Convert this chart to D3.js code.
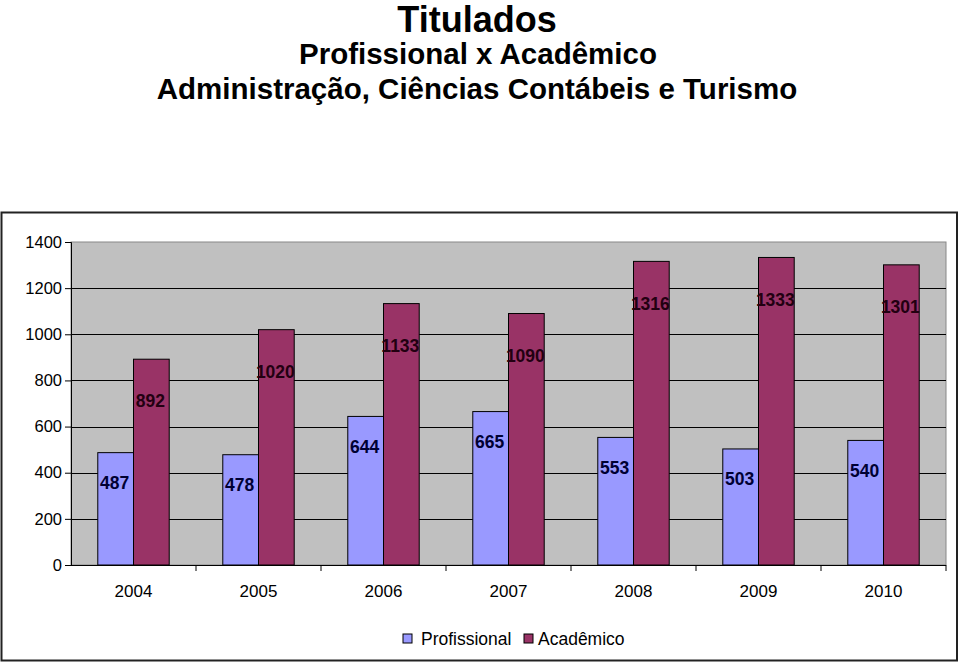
<!DOCTYPE html>
<html><head><meta charset="utf-8">
<script src="https://cdn.jsdelivr.net/npm/d3@7"></script>
<style>body{margin:0;background:#fff}svg{display:block}text{font-family:"Liberation Sans",Arial,sans-serif}</style>
</head><body>
<svg id="c" width="960" height="664"></svg>
<script>
const years = ["2004","2005","2006","2007","2008","2009","2010"];
const profissional = [487,478,644,665,553,503,540];
const academico = [892,1020,1133,1090,1316,1333,1301];
const seriesNames = ["Profissional","Acadêmico"];
const yTicks = [0,200,400,600,800,1000,1200,1400];

const svg = d3.select("#c");
const colors = ["#9999FF","#993366"];
const labelColors = ["#000033","#220011"];
const L=71, R=946, T=242, B=565;

// titles
svg.append("text").attr("x",477).attr("y",32).attr("text-anchor","middle").attr("font-weight","bold").attr("font-size",36).text("Titulados");
svg.append("text").attr("x",478).attr("y",64).attr("text-anchor","middle").attr("font-weight","bold").attr("font-size",29.5).text("Profissional x Acadêmico");
svg.append("text").attr("x",477).attr("y",99).attr("text-anchor","middle").attr("font-weight","bold").attr("font-size",29.5).text("Administração, Ciências Contábeis e Turismo");

// outer box
svg.append("rect").attr("x",1.5).attr("y",212.5).attr("width",955.5).attr("height",448).attr("fill","none").attr("stroke","#222").attr("stroke-width",2);

const x0 = d3.scaleBand().domain(years).range([L,R]).paddingInner(0).paddingOuter(0);
const bw = x0.bandwidth()/3.5;
const y = d3.scaleLinear().domain([0,1400]).range([B,T]);

svg.append("rect").attr("x",L).attr("y",T).attr("width",R-L).attr("height",B-T).attr("fill","#C0C0C0").attr("stroke","#888").attr("stroke-width",1);

// gridlines
svg.append("g").selectAll("line").data(yTicks.filter(d=>d>0&&d<1400)).join("line")
  .attr("x1",L).attr("x2",R).attr("y1",d=>Math.round(y(d))+0.5).attr("y2",d=>Math.round(y(d))+0.5)
  .attr("stroke","#000").attr("stroke-width",1);

// bars
const data = years.map((yr,i)=>({yr, vals:[profissional[i],academico[i]]}));
const g = svg.append("g");
data.forEach(d=>{
  d.vals.forEach((v,s)=>{
    const bx = x0(d.yr) + bw*0.75 + s*bw;
    g.append("rect").attr("x",bx).attr("y",y(v)).attr("width",bw).attr("height",B-y(v))
      .attr("fill",colors[s]).attr("stroke","#000").attr("stroke-width",1);
  });
});
data.forEach(d=>{
  d.vals.forEach((v,s)=>{
    const bx = x0(d.yr) + bw*0.75 + s*bw;
    g.append("text").attr("x",bx+bw/2-1).attr("y",y(v)+(s===0?30:42)).attr("dy","0.35em")
      .attr("text-anchor","middle").attr("font-weight","bold").attr("font-size",17.5)
      .attr("fill",labelColors[s]).text(v);
  });
});

// axes
const yAxis = d3.axisLeft(y).tickValues(yTicks).tickFormat(d3.format("d")).tickSize(6).tickPadding(3);
const ya = svg.append("g").attr("transform",`translate(${L},0)`).call(yAxis);
ya.selectAll("text").attr("font-size",16.5).attr("fill","#000").style("font-family","Liberation Sans, Arial, sans-serif");
ya.selectAll("line,path").attr("stroke","#000");

const xAxis = d3.axisBottom(x0).tickSize(0).tickPadding(20);
const xa = svg.append("g").attr("transform",`translate(0,${B})`).call(xAxis);
xa.selectAll("text").attr("font-size",17).attr("fill","#000").style("font-family","Liberation Sans, Arial, sans-serif");
xa.select("path").attr("stroke","#000").attr("d",`M${L},0.5H${R}`);
// category boundary ticks
svg.append("g").selectAll("line").data(years.slice(1)).join("line")
  .attr("x1",d=>x0(d)).attr("x2",d=>x0(d)).attr("y1",B).attr("y2",B+6).attr("stroke","#000");
svg.append("line").attr("x1",R).attr("x2",R).attr("y1",B).attr("y2",B+6).attr("stroke","#000");

// legend
const leg = svg.append("g");
const legX = [403,524], legTX=[421,538];
seriesNames.forEach((n,i)=>{
  leg.append("rect").attr("x",legX[i]).attr("y",634).attr("width",9).attr("height",9).attr("fill",colors[i]).attr("stroke","#000");
  leg.append("text").attr("x",legTX[i]).attr("y",639).attr("dy","0.35em").attr("font-size",17.5).text(n);
});
</script>
</body></html>
